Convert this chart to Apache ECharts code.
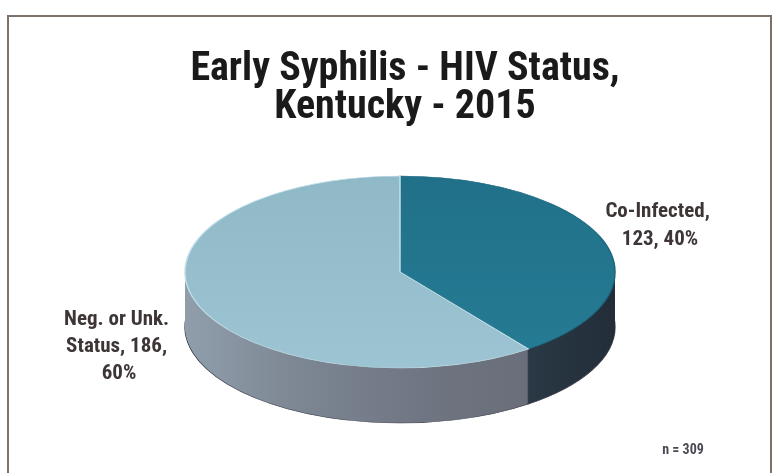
<!DOCTYPE html>
<html>
<head>
<meta charset="utf-8">
<script src="https://cdn.jsdelivr.net/npm/echarts@6/dist/echarts.min.js"></script>
<style>
  html, body { margin: 0; padding: 0; background: #ffffff; }
  #chart { width: 777px; height: 473px; }
</style>
</head>
<body>
<div id="chart"></div>
<script>
// ---- data ----
const categories = ['Co-Infected', 'Neg. or Unk. Status'];
const values = [123, 186];
const titleLines = ['Early Syphilis - HIV Status,', 'Kentucky - 2015'];
const noteText = 'n = 309';

// ---- derived ----
const total = values.reduce((a, b) => a + b, 0);
const percents = values.map(v => Math.round(v / total * 100));
const labelTexts = categories.map((c, i) => c + ', ' + values[i] + ', ' + percents[i] + '%');

// ---- geometry / style ----
const CX = 400, CY = 272, RA = 215, RB = 96, DEPTH = 55;
const SY = RB / RA;
const FONT = '"Liberation Sans Narrow", "Roboto Condensed", Roboto, sans-serif';

const topFill = [
  new echarts.graphic.LinearGradient(0, 0, 0, 1, [
    { offset: 0, color: '#217089' }, { offset: 1, color: '#257b93' }]),
  new echarts.graphic.LinearGradient(0, 0, 0, 1, [
    { offset: 0, color: '#90b9c8' }, { offset: 1, color: '#9cc4d2' }])
];
const topStroke = ['#1c6680', '#c4e0ea'];
const sideFill = [
  new echarts.graphic.LinearGradient(0, 0, 1, 0, [
    { offset: 0, color: '#2e404d' }, { offset: 0.6, color: '#2a3945' }, { offset: 1, color: '#222d38' }]),
  new echarts.graphic.LinearGradient(0, 0, 1, 0, [
    { offset: 0, color: '#909eab' }, { offset: 0.35, color: '#7c8592' }, { offset: 0.75, color: '#6e7380' }, { offset: 1, color: '#6a6e7b' }])
];

function sliceAngles(i) {
  let before = 0;
  for (let j = 0; j < i; j++) before += values[j];
  const s = -Math.PI / 2 + before / total * Math.PI * 2;
  const e = s + values[i] / total * Math.PI * 2;
  return [s, e];
}

const chart = echarts.init(document.getElementById('chart'), null, { renderer: 'canvas' });

const option = {
  backgroundColor: '#ffffff',
  animation: false,
  title: {
    text: titleLines.join('\n'),
    left: 400,
    top: 46,
    textAlign: 'center',
    textStyle: {
      fontFamily: FONT,
      fontWeight: 'bold',
      fontSize: 40,
      lineHeight: 38,
      color: '#1a1a1a'
    }
  },
  graphic: [
    {
      type: 'rect', silent: true,
      shape: { x: 8, y: 16, width: 763, height: 470 },
      style: { fill: 'none', stroke: '#7d716c', lineWidth: 2 }
    },
    {
      type: 'text', silent: true, x: 660, y: 198,
      style: {
        text: labelTexts[0], width: 115, overflow: 'break',
        align: 'center', verticalAlign: 'top',
        font: 'bold 21px ' + FONT, lineHeight: 28, fill: '#3e3636'
      }
    },
    {
      type: 'text', silent: true, x: 119, y: 306,
      style: {
        text: labelTexts[1], width: 115, overflow: 'break',
        align: 'center', verticalAlign: 'top',
        font: 'bold 21px ' + FONT, lineHeight: 27, fill: '#3e3636'
      }
    },
    {
      type: 'text', silent: true, x: 683, y: 450,
      style: {
        text: noteText, align: 'center', verticalAlign: 'middle',
        font: 'bold 14px ' + FONT, fill: '#4a4a55'
      }
    }
  ],
  series: [
    {
      type: 'custom', name: 'side', coordinateSystem: 'none', silent: true, z: 1,
      data: values.map((v, i) => [v, i]),
      renderItem: function (params, api) {
        const i = params.dataIndex;
        const ang = sliceAngles(i);
        const children = [];
        for (let k = DEPTH; k >= 1; k--) {
          children.push({
            type: 'sector',
            x: CX, y: CY + k, scaleY: SY,
            shape: { cx: 0, cy: 0, r0: 0, r: RA, startAngle: ang[0], endAngle: ang[1], clockwise: true },
            style: k === DEPTH
              ? { fill: sideFill[i], stroke: '#3a3d48', lineWidth: 1.2, strokeNoScale: true }
              : { fill: sideFill[i] }
          });
        }
        return { type: 'group', children: children };
      }
    },
    {
      type: 'custom', name: 'top', coordinateSystem: 'none', silent: true, z: 2,
      data: values.map((v, i) => [v, i]),
      renderItem: function (params, api) {
        const i = params.dataIndex;
        const ang = sliceAngles(i);
        return {
          type: 'sector',
          x: CX, y: CY, scaleY: SY,
          shape: { cx: 0, cy: 0, r0: 0, r: RA, startAngle: ang[0], endAngle: ang[1], clockwise: true },
          style: { fill: topFill[i], stroke: topStroke[i], lineWidth: 1.5, strokeNoScale: true }
        };
      }
    }
  ]
};

chart.setOption(option);
</script>
</body>
</html>
